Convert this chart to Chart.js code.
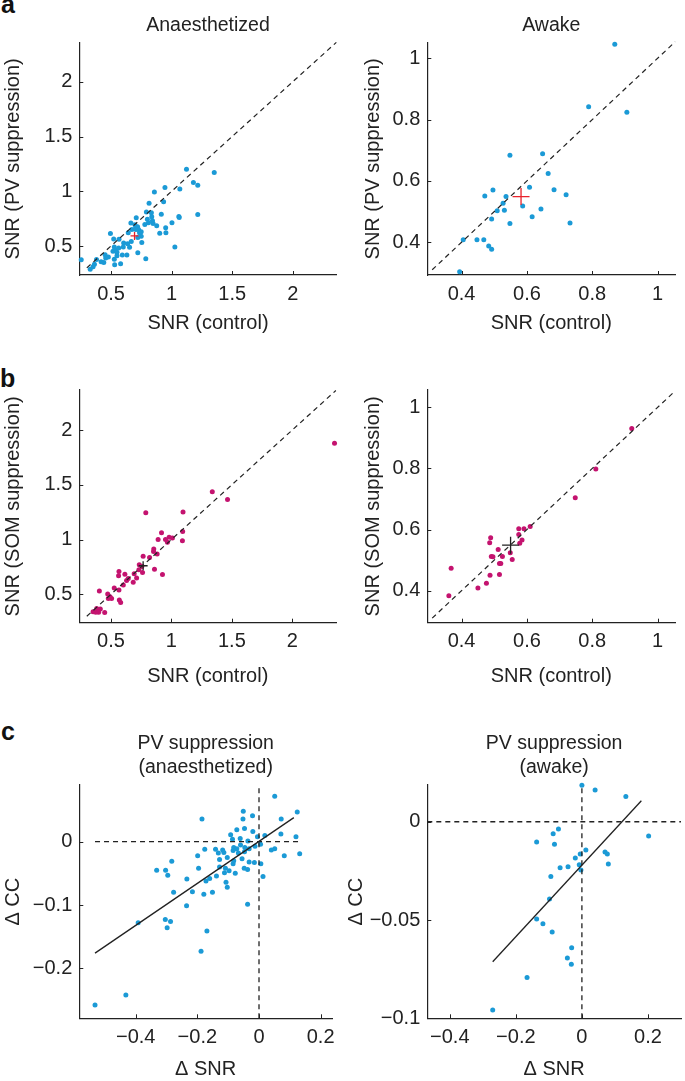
<!DOCTYPE html>
<html><head><meta charset="utf-8">
<script src="https://cdn.jsdelivr.net/npm/chart.js@4.4.1/dist/chart.umd.min.js"></script>
<style>
html,body{margin:0;padding:0;background:#fff;}
body{width:685px;height:1081px;position:relative;overflow:hidden;font-family:'Liberation Sans',Arial,Helvetica,sans-serif;}
canvas.cv{position:absolute;}
.lbl{position:absolute;font-weight:bold;font-size:25px;color:#111;line-height:25px;}
</style></head><body>
<div class="lbl" style="left:1px;top:-8px">a</div>
<div class="lbl" style="left:0px;top:366px">b</div>
<div class="lbl" style="left:1px;top:719px">c</div>
<script>
// ---------- data ----------
// (a) PV suppression, anaesthetized
const pvAnaCtrl = [1.123,1.352,1.180,1.216,1.068,0.945,0.858,0.814,0.934,1.216,0.792,0.833,0.915,1.060,1.063,1.003,0.836,0.800,0.842,0.809,0.847,0.877,0.951,0.953,0.902,1.027,0.787,0.708,0.664,0.697,0.719,0.702,0.672,0.727,0.735,0.749,0.721,0.754,0.721,0.642,0.495,0.522,0.566,0.604,0.637,0.667,0.653,0.601,0.527,0.533,0.516,0.549,0.549,0.593,0.631,0.527,0.579,0.530,0.478,0.456,0.418,0.380,0.363,0.352,0.328,0.254,0.440,0.451,0.563,0.749,0.705,0.779];
const pvAnaPV   = [1.202,1.172,1.080,1.055,1.021,1.034,0.994,0.890,0.905,0.788,0.810,0.804,0.791,0.770,0.761,0.712,0.767,0.745,0.730,0.712,0.706,0.684,0.666,0.620,0.617,0.491,0.383,0.758,0.709,0.693,0.675,0.663,0.650,0.650,0.620,0.589,0.577,0.531,0.439,0.620,0.613,0.564,0.561,0.528,0.521,0.540,0.488,0.491,0.491,0.466,0.451,0.442,0.411,0.417,0.417,0.380,0.337,0.328,0.399,0.390,0.356,0.377,0.334,0.310,0.288,0.374,0.350,0.420,0.482,0.629,0.650,0.696];
const pvAnaMean = [0.694, 0.592];
// (a) PV suppression, awake
const pvAwkCtrl = [0.869,0.789,0.906,0.548,0.648,0.665,0.608,0.683,0.496,0.471,0.536,0.720,0.527,0.587,0.509,0.531,0.643,0.616,0.492,0.548,0.732,0.405,0.447,0.468,0.483,0.492,0.394];
const pvAwkPV   = [1.046,0.842,0.824,0.684,0.689,0.624,0.579,0.571,0.570,0.551,0.549,0.555,0.527,0.518,0.503,0.504,0.508,0.483,0.476,0.461,0.463,0.408,0.408,0.408,0.388,0.377,0.304];
const pvAwkMean = [0.582, 0.549];
// (b) SOM suppression, anaesthetized
const somAnaCtrl = [2.349,1.338,1.464,0.788,1.096,0.918,1.093,1.091,0.890,0.981,1.008,0.967,0.951,0.854,0.852,0.882,0.819,0.766,0.860,0.926,0.734,0.755,0.731,0.761,0.692,0.712,0.684,0.643,0.615,0.566,0.563,0.629,0.602,0.527,0.566,0.473,0.492,0.505,0.478,0.569,0.580,0.404,0.382,0.412,0.398,0.448,0.352,0.374];
const somAnaSOM  = [1.880,1.436,1.365,1.245,1.252,1.061,1.074,0.988,1.000,1.021,1.015,0.975,1.000,0.914,0.890,0.868,0.837,0.847,0.730,0.681,0.770,0.755,0.724,0.699,0.687,0.650,0.610,0.644,0.684,0.709,0.669,0.626,0.586,0.558,0.540,0.503,0.479,0.463,0.463,0.448,0.426,0.531,0.371,0.365,0.337,0.334,0.340,0.337];
const somAnaMean = [0.766, 0.761];
// (b) SOM suppression, awake
const somAwkCtrl = [0.921,0.811,0.748,0.610,0.591,0.575,0.575,0.585,0.578,0.489,0.486,0.512,0.491,0.496,0.525,0.549,0.555,0.516,0.520,0.487,0.516,0.476,0.450,0.368,0.361];
const somAwkSOM  = [0.931,0.798,0.704,0.610,0.603,0.603,0.584,0.566,0.555,0.573,0.557,0.535,0.512,0.511,0.512,0.524,0.502,0.489,0.489,0.450,0.453,0.424,0.409,0.473,0.383];
const somAwkMean = [0.550, 0.549];
// (c) delta SNR vs delta CC
const dSNRana = [0.051,0.124,0.072,-0.051,-0.021,-0.052,-0.185,-0.072,-0.047,-0.020,-0.092,-0.086,-0.061,-0.005,0.019,0.071,0.120,-0.036,0.005,-0.013,-0.060,-0.082,-0.072,-0.046,-0.032,-0.176,-0.141,-0.118,-0.114,-0.132,-0.103,-0.084,-0.067,-0.047,0.040,0.051,0.082,0.132,-0.199,-0.128,-0.082,-0.055,-0.032,-0.015,0.006,-0.283,-0.196,-0.128,-0.109,-0.084,-0.048,-0.037,-0.332,-0.303,-0.296,-0.112,-0.097,-0.077,-0.138,-0.160,-0.172,0.013,-0.234,-0.107,-0.103,-0.277,-0.216,-0.151,-0.179,-0.235,-0.037,-0.392,-0.304,-0.287,-0.298,-0.169,-0.188,-0.432,-0.532];
const dCCana  = [0.072,0.047,0.036,0.048,0.041,0.036,0.036,0.019,0.021,0.016,0.011,0.004,0.005,0.008,0.010,0.012,0.008,0.001,-0.004,-0.007,-0.005,-0.009,-0.011,-0.009,-0.011,-0.012,-0.012,-0.013,-0.017,-0.018,-0.025,-0.014,-0.018,-0.016,-0.013,-0.011,-0.022,-0.019,-0.022,-0.028,-0.030,-0.027,-0.032,-0.033,-0.035,-0.031,-0.042,-0.040,-0.042,-0.035,-0.042,-0.044,-0.045,-0.045,-0.053,-0.049,-0.046,-0.050,-0.054,-0.058,-0.062,-0.055,-0.059,-0.064,-0.072,-0.080,-0.079,-0.080,-0.083,-0.101,-0.099,-0.128,-0.123,-0.126,-0.136,-0.141,-0.173,-0.242,-0.258];
const fitAnaX = [-0.532, 0.113], fitAnaY = [-0.176, 0.038];
const zeroAnaX = [-0.532, 0.135], zeroAnaY = [-0.279, 0.087];
const dSNRawk = [0.000,0.040,0.133,0.202,-0.137,-0.071,-0.087,-0.083,0.012,-0.020,-0.005,0.070,0.077,0.080,-0.008,-0.003,-0.066,-0.042,-0.094,-0.098,-0.137,-0.118,-0.090,-0.031,-0.044,-0.032,-0.166,-0.270];
const dCCawk  = [0.0186,0.0161,0.0129,-0.0073,-0.0103,-0.0037,-0.0061,-0.0115,-0.0144,-0.0185,-0.0164,-0.0154,-0.0164,-0.0215,-0.0219,-0.0246,-0.0234,-0.0229,-0.0278,-0.0393,-0.0495,-0.0519,-0.0561,-0.0641,-0.0693,-0.0725,-0.0793,-0.0958];
const fitAwkX = [-0.270, 0.180], fitAwkY = [-0.0712, 0.0107];
const zeroAwkX = [-0.468, 0.300], zeroAwkY = [-0.100, 0.0187];

// axis ranges and tick labels
const rangeSNRanaX = [0.238, 2.363], rangeSNRanaY = [0.235, 2.357], rangeSNRanaYb = [0.241, 2.365];
const rangeSNRawkX = [0.295, 1.054], rangeSNRawkY = [0.293, 1.051], rangeSNRawkYb = [0.295, 1.057];
const rangeDSNRana = [-0.583, 0.237], rangeDCCana = [-0.279, 0.0896];
const rangeDSNRawk = [-0.468, 0.300], rangeDCCawk = [-0.100, 0.0187];
const unityAna = [0.30, 2.36], unityAwk = [0.31, 1.054];
const ticksSNRana = [0.5, 1, 1.5, 2];
const ticksSNRawk = [0.4, 0.6, 0.8, 1];
const ticksDSNR = [-0.4, -0.2, 0, 0.2];
const ticksDCCana = [-0.2, -0.1, 0];
const ticksDCCawk = [-0.1, -0.05, 0];

// ---------- styling ----------
const INK = '#222';
const FONT = "'Liberation Sans', Arial, Helvetica, sans-serif";
const BLUE = '#1b9ad6', MAG = '#c4136f', RED = '#e8232b';
const pts = (xs, ys) => xs.map((x, i) => ({x, y: ys[i]}));
const seg = (xs, ys) => [{x: xs[0], y: ys[0]}, {x: xs[1], y: ys[1]}];
const fmt = v => String(v).replace('-', '\u2212');

const inTicks = {
  id: 'inTicks',
  afterDraw(chart) {
    const ctx = chart.ctx, a = chart.chartArea;
    const xs = chart.scales.x, ys = chart.scales.y;
    ctx.save(); ctx.strokeStyle = INK; ctx.lineWidth = 1;
    xs.ticks.forEach(t => { const p = Math.round(xs.getPixelForValue(t.value)) + 0.5;
      ctx.beginPath(); ctx.moveTo(p, a.bottom); ctx.lineTo(p, a.bottom - 4); ctx.stroke(); });
    ys.ticks.forEach(t => { const p = Math.round(ys.getPixelForValue(t.value)) + 0.5;
      ctx.beginPath(); ctx.moveTo(a.left, p); ctx.lineTo(a.left + 4, p); ctx.stroke(); });
    ctx.restore();
  }
};

function panel(p) {
  const [cx, cy, cw, ch] = p.box;
  const [L, T, R, B] = p.area;
  const cv = document.createElement('canvas');
  cv.className = 'cv'; cv.width = cw; cv.height = ch;
  cv.style.left = cx + 'px'; cv.style.top = cy + 'px';
  document.body.appendChild(cv);
  const yW = L - cx, xH = cy + ch - B, padRight = cx + cw - R;
  let padTop = T - cy, title = {display: false};
  if (p.title) {
    const fs = 19.5, lh = 24, n = p.title.length;
    const ptop = p.titleY - cy - lh / 2;
    title = {display: true, text: p.title, fullSize: false, color: INK,
      font: {family: FONT, size: fs, lineHeight: lh / fs, weight: 'normal'},
      padding: {top: ptop, bottom: T - cy - ptop - n * lh}};
    padTop = 0;
  }
  const tickFont = {family: FONT, size: 20, lineHeight: 1.2};
  const axis = (rng, tks, label, isX) => ({
    type: 'linear', min: rng[0], max: rng[1],
    afterBuildTicks: s => { s.ticks = tks.map(v => ({value: v})); },
    afterFit: s => { if (isX) s.height = xH; else s.width = yW; },
    grid: {display: true, drawOnChartArea: false, drawTicks: false, tickLength: 0},
    border: {display: true, color: INK, width: 1.2},
    ticks: {autoSkip: false, maxRotation: 0, minRotation: 0, padding: 7, color: INK, font: tickFont,
      callback: v => fmt(v)},
    title: {display: true, text: label, color: INK, font: {family: FONT, size: 20, lineHeight: 1.2},
      padding: isX ? {top: 0, bottom: cy + ch - p.xLabelY - 12} : {top: p.yLabelX - cx - 12, bottom: 0}}
  });
  new Chart(cv, {
    type: 'scatter',
    data: {datasets: p.datasets},
    options: {
      responsive: false, animation: false, devicePixelRatio: 1, events: [],
      layout: {padding: {left: 0, top: padTop, right: padRight, bottom: 0}},
      plugins: {legend: {display: false}, tooltip: {enabled: false}, title: title},
      scales: {x: axis(p.xr, p.xt, p.xl, true), y: axis(p.yr, p.yt, p.yl, false)}
    },
    plugins: [inTicks]
  });
}

function meanDs(m, r, color) {
  return {data: [{x: m[0], y: m[1]}], pointStyle: 'cross', pointRadius: r, borderColor: color,
    backgroundColor: color, borderWidth: 1.3, clip: false};
}
function lineDs(data, dash, w) {
  return {data, showLine: true, borderColor: INK, borderWidth: w, borderDash: dash, pointRadius: 0, clip: false};
}
function dotsDs(data, color) {
  return {data, pointRadius: 2.5, backgroundColor: color, borderWidth: 0, clip: false};
}

// (a) left
panel({box: [0, 0, 342, 345], area: [79.3, 42.7, 336.7, 275], title: ['Anaesthetized'], titleY: 26,
  xLabelY: 323, yLabelX: 13.3, xr: rangeSNRanaX, yr: rangeSNRanaY, xt: ticksSNRana, yt: ticksSNRana,
  xl: 'SNR (control)', yl: 'SNR (PV suppression)',
  datasets: [meanDs(pvAnaMean, 4, RED), lineDs(seg(unityAna, unityAna), [5, 4], 1.2), dotsDs(pts(pvAnaCtrl, pvAnaPV), BLUE)]});
// (a) right
panel({box: [342, 0, 343, 345], area: [427.3, 42.7, 683.3, 275], title: ['Awake'], titleY: 26,
  xLabelY: 323, yLabelX: 373.3, xr: rangeSNRawkX, yr: rangeSNRawkY, xt: ticksSNRawk, yt: ticksSNRawk,
  xl: 'SNR (control)', yl: 'SNR (PV suppression)',
  datasets: [meanDs(pvAwkMean, 8.5, RED), lineDs(seg(unityAwk, unityAwk), [5, 4], 1.2), dotsDs(pts(pvAwkCtrl, pvAwkPV), BLUE)]});
// (b) left
panel({box: [0, 345, 342, 345], area: [79.3, 390, 336.7, 622.7],
  xLabelY: 676, yLabelX: 13.3, xr: rangeSNRanaX, yr: rangeSNRanaYb, xt: ticksSNRana, yt: ticksSNRana,
  xl: 'SNR (control)', yl: 'SNR (SOM suppression)',
  datasets: [meanDs(somAnaMean, 4.5, INK), lineDs(seg(unityAna, unityAna), [5, 4], 1.2), dotsDs(pts(somAnaCtrl, somAnaSOM), MAG)]});
// (b) right
panel({box: [342, 345, 343, 345], area: [427.3, 390, 683.3, 622.7],
  xLabelY: 676.5, yLabelX: 373.3, xr: rangeSNRawkX, yr: rangeSNRawkYb, xt: ticksSNRawk, yt: ticksSNRawk,
  xl: 'SNR (control)', yl: 'SNR (SOM suppression)',
  datasets: [meanDs(somAwkMean, 8.5, INK), lineDs(seg(unityAwk, unityAwk), [5, 4], 1.2), dotsDs(pts(somAwkCtrl, somAwkSOM), MAG)]});
// (c) left
panel({box: [0, 690, 342, 391], area: [79.3, 785, 336.7, 1018.3], title: ['PV suppression', '(anaesthetized)'], titleY: 744,
  xLabelY: 1069, yLabelX: 13.3, xr: rangeDSNRana, yr: rangeDCCana, xt: ticksDSNR, yt: ticksDCCana,
  xl: '\u0394 SNR', yl: '\u0394 CC',
  datasets: [lineDs(seg(fitAnaX, fitAnaY), [], 1.3), lineDs(seg(zeroAnaX, [0, 0]), [5, 4], 1.3),
    lineDs(seg([0, 0], zeroAnaY), [5, 4], 1.3), dotsDs(pts(dSNRana, dCCana), BLUE)]});
// (c) right
panel({box: [342, 690, 343, 391], area: [427.3, 785, 683.3, 1018.3], title: ['PV suppression', '(awake)'], titleY: 744,
  xLabelY: 1069, yLabelX: 356.7, xr: rangeDSNRawk, yr: rangeDCCawk, xt: ticksDSNR, yt: ticksDCCawk,
  xl: '\u0394 SNR', yl: '\u0394 CC',
  datasets: [lineDs(seg(fitAwkX, fitAwkY), [], 1.3), lineDs(seg(zeroAwkX, [0, 0]), [5, 4], 1.3),
    lineDs(seg([0, 0], zeroAwkY), [5, 4], 1.3), dotsDs(pts(dSNRawk, dCCawk), BLUE)]});
</script>
</body></html>
